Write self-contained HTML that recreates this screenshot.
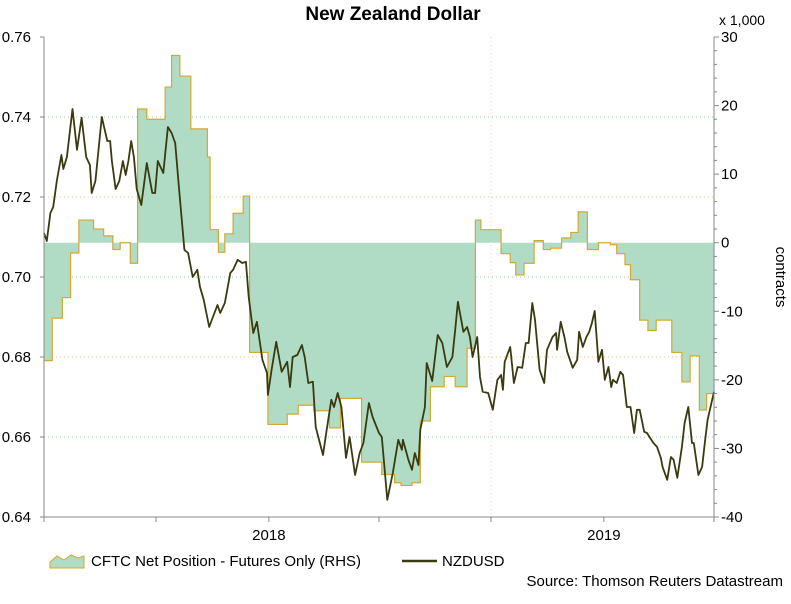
<!DOCTYPE html>
<html><head><meta charset="utf-8"><style>
body{margin:0;background:#fff;width:791px;height:599px;overflow:hidden;font-family:"Liberation Sans",Arial,sans-serif}
svg text{font-family:"Liberation Sans",Arial,sans-serif}
</style></head><body>
<svg id="chart" width="791" height="599" xmlns="http://www.w3.org/2000/svg">
<text x="393" y="20" text-anchor="middle" font-size="19" font-weight="bold">New Zealand Dollar</text>
<text x="719" y="25" font-size="14">x 1,000</text>
<text transform="translate(776,277) rotate(90)" text-anchor="middle" font-size="15">contracts</text>
<g id="grid"></g>
<g id="cftc"></g>
<g id="line"></g>
<g id="axes"></g>
<g>
<path d="M50,562 L57,556 L64,560 L71,555 L78,558 L84,556 L84,568 L50,568Z" fill="#b0dcc6" stroke="#d4a830" stroke-width="1"/>
<text x="91" y="566" font-size="15">CFTC Net Position - Futures Only (RHS)</text>
<line x1="402" y1="561" x2="437" y2="561" stroke="#3a3a10" stroke-width="2.5"/>
<text x="442" y="566" font-size="15">NZDUSD</text>
</g>
<text x="783" y="586" text-anchor="end" font-size="15">Source: Thomson Reuters Datastream</text>
</svg>
<script>
// days since 2017-05-01
const cftcDays=[0,9,20,29,38,54,65,75,83,94,102,112,132,139,148,160,178,181,190,197,206,217,224,244,265,277,294,311,323,346,368,382,389,401,410,421,436,448,461,470,476,498,508,514,523,534,544,552,564,574,582,592,604,617,624,633,639,649,658,667,684,695,704,714,722];
const cftcVals=[-17.2,-11,-8,-1.5,3.3,2,1,-1,0,-3,19.5,18,22.7,27.3,24.3,16.6,12.5,1.9,-1.4,1.3,4.3,6.8,-16,-26.5,-25,-23.7,-24.5,-27,-22.7,-32,-33.8,-35,-35.4,-35,-26,-21,-19.5,-21,-15.4,3.3,1.9,-1.6,-2.9,-4.7,-3,0.3,-1,-0.8,0.7,1.5,4.5,-1,0,-0.3,-1.6,-3.2,-5.4,-11.3,-12.8,-11.3,-16,-20.3,-16.5,-24.4,-22];
const nzdDays=[0,3,7,10,14,19,21,25,31,36,41,46,50,52,56,63,69,72,74,78,82,86,89,92,95,98,101,106,112,118,121,124,130,135,139,143,147,153,157,162,167,170,174,180,184,189,192,197,203,206,211,216,220,223,228,232,238,243,244,248,253,259,265,268,271,276,281,284,288,293,296,304,308,313,316,320,324,329,333,339,344,348,354,358,365,368,374,380,386,390,391,397,401,404,408,410,415,417,423,429,434,439,445,448,451,457,461,464,467,472,475,478,484,489,494,498,500,502,508,512,516,521,525,528,532,535,540,545,548,554,558,559,563,567,570,576,581,583,587,591,594,597,600,604,608,611,615,618,620,624,628,631,635,639,643,646,649,654,657,664,668,672,674,679,683,686,690,695,698,702,706,708,713,717,720,723,730];
const nzdVals=[0.711,0.709,0.716,0.7175,0.724,0.7305,0.727,0.730,0.742,0.7318,0.7398,0.730,0.728,0.721,0.724,0.740,0.734,0.734,0.729,0.722,0.724,0.729,0.7255,0.729,0.734,0.730,0.722,0.718,0.7285,0.721,0.721,0.729,0.726,0.7375,0.736,0.7335,0.7225,0.7068,0.706,0.700,0.7018,0.6975,0.6943,0.6875,0.690,0.693,0.691,0.6935,0.701,0.7018,0.7043,0.7035,0.7038,0.695,0.686,0.6888,0.6793,0.676,0.6705,0.6768,0.6838,0.6763,0.6788,0.6725,0.680,0.6805,0.683,0.680,0.6735,0.6738,0.6625,0.6555,0.6618,0.6693,0.6675,0.671,0.6675,0.6548,0.660,0.6505,0.656,0.6585,0.6685,0.665,0.661,0.660,0.6443,0.651,0.6593,0.6568,0.6593,0.6543,0.6518,0.656,0.653,0.6618,0.6675,0.6785,0.674,0.6855,0.6835,0.6775,0.680,0.6868,0.6938,0.6863,0.6875,0.685,0.680,0.685,0.675,0.6713,0.671,0.6668,0.6743,0.6755,0.6718,0.6788,0.6825,0.6735,0.6775,0.6773,0.6835,0.6835,0.6935,0.6893,0.6768,0.6735,0.6818,0.685,0.686,0.6818,0.6888,0.685,0.6813,0.6773,0.6793,0.6863,0.6825,0.685,0.6863,0.6885,0.6915,0.6788,0.6818,0.6743,0.6775,0.6725,0.6743,0.6735,0.6763,0.6755,0.6675,0.6675,0.661,0.6668,0.6668,0.6613,0.661,0.6585,0.6575,0.6548,0.6525,0.6493,0.655,0.6543,0.6498,0.6575,0.6635,0.6675,0.6585,0.6585,0.6505,0.6525,0.6585,0.6643,0.6713];
const leftTicks=[0.64,0.66,0.68,0.70,0.72,0.74,0.76];
const leftTickLabels=["0.64","0.66","0.68","0.70","0.72","0.74","0.76"];
const rightTicks=[-40,-30,-20,-10,0,10,20,30];
const xTickDays=[0,122,245,365,487,610,730];
const yearLabels=["2018","2019"];
const yearLabelDays=[245,610];

const X0=44,X1=714,Y0=37,Y1=517;
const xs=d=>X0+d*(X1-X0)/730;
const yl=v=>Y0+(0.76-v)*(Y1-Y0)/0.12;
const yr=v=>Y0+(30-v)*(Y1-Y0)/70;
const NS="http://www.w3.org/2000/svg";
function mk(parent,tag,attrs){const e=document.createElementNS(NS,tag);for(const k in attrs)e.setAttribute(k,attrs[k]);document.getElementById(parent).appendChild(e);return e;}

leftTicks.forEach((v,i)=>{if(i>0&&i<6){const g=mk('grid','line',{x1:X0,x2:X1,y1:yl(v),y2:yl(v),stroke:i%2?'#9ccf9c':'#f0c890','stroke-width':1,'stroke-dasharray':'1,3'});

}});
const vg=mk('grid','line',{x1:xs(487),x2:xs(487),y1:Y0,y2:Y1,stroke:'#f0c8c0','stroke-width':1,'stroke-dasharray':'1,3'});



const z=yr(0);
let d='M'+xs(cftcDays[0])+','+z;
for(let i=0;i<cftcVals.length;i++){const a=xs(cftcDays[i]),b=xs(i+1<cftcDays.length?cftcDays[i+1]:730),y=yr(cftcVals[i]);d+=' L'+a+','+y+' L'+b+','+y;}
d+=' L'+xs(730)+','+z+'Z';
const area=mk('cftc','path',{d:d,fill:'#b0dcc6',stroke:'none'});


let dl='';
for(let i=0;i<cftcVals.length;i++){const a=xs(cftcDays[i]),b=xs(i+1<cftcDays.length?cftcDays[i+1]:730),y=yr(cftcVals[i]);dl+=(i?' L':'M')+a+','+y+' L'+b+','+y;}
const edge=mk('cftc','path',{d:dl,fill:'none',stroke:'#d4a830','stroke-width':1.2});



const pts=nzdDays.map((t,i)=>xs(t).toFixed(1)+','+yl(nzdVals[i]).toFixed(1)).join(' ');
const ln=mk('line','polyline',{points:pts,fill:'none',stroke:'#3a3a10','stroke-width':1.8,'stroke-linejoin':'round'});



const ax=[[X0,Y0,X0,Y1],[X1,Y0,X1,Y1],[X0,Y1,X1,Y1]];
ax.forEach(a=>{const l=mk('axes','line',{x1:a[0],y1:a[1],x2:a[2],y2:a[3],stroke:'#888','stroke-width':1});

});
leftTicks.forEach((v,i)=>{const t=mk('axes','text',{x:X0-13,y:yl(v)+5,'text-anchor':'end','font-size':15});t.textContent=leftTickLabels[i];


const k=mk('axes','line',{x1:X0-4,x2:X0,y1:yl(v),y2:yl(v),stroke:'#888'});

});
for(let v=-40;v<=30;v+=2){const k=mk('axes','line',{x1:X1,x2:X1+(v%10===0?5:3),y1:yr(v),y2:yr(v),stroke:'#888'});

}
rightTicks.forEach(v=>{const t=mk('axes','text',{x:X1+7,y:yr(v)+5,'font-size':15});t.textContent=String(v);

});
xTickDays.forEach(t=>{const k=mk('axes','line',{x1:xs(t),x2:xs(t),y1:Y1,y2:Y1+5,stroke:'#888'});

});
yearLabels.forEach((s,i)=>{const t=mk('axes','text',{x:xs(yearLabelDays[i]),y:Y1+23,'text-anchor':'middle','font-size':15});t.textContent=s;

});
</script>
</body></html>
